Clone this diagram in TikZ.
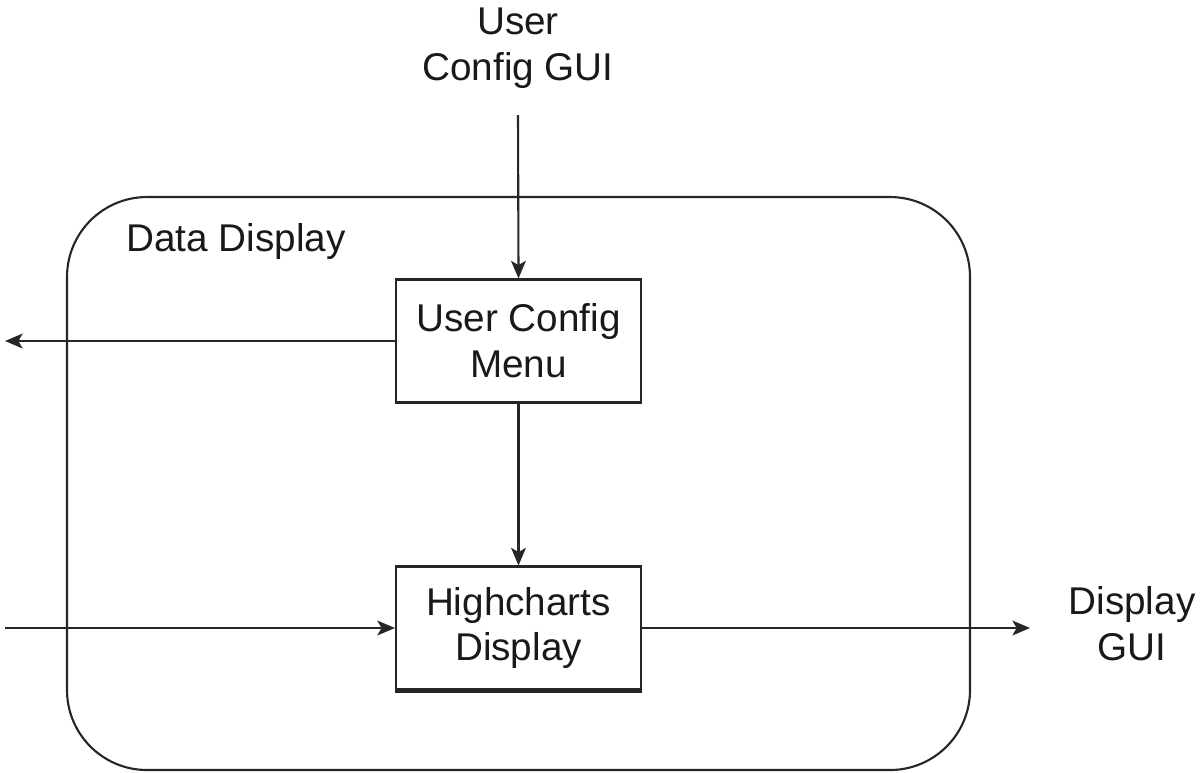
\documentclass[tikz,border=0pt]{standalone}
\usepackage{fontspec}
\setmainfont{Liberation Sans}
\usetikzlibrary{arrows.meta}

\begin{document}
\begin{tikzpicture}[x=0.01cm, y=-0.01cm, line width=0.6pt, draw=black!85,
  >={Stealth[length=5pt, width=4.2pt, inset=1.2pt]},
  every node/.style={font=\fontsize{11}{13}\selectfont, text=black!90},
  blockbox/.style={draw, minimum width=245*0.01cm, minimum height=123*0.01cm, align=center},
  lbl/.style={align=center}]
\useasboundingbox (0,0) rectangle (1204,772);
% outer block
\draw[rounded corners=0.8cm] (67,197) rectangle (970,770);
\node (datadisp) at (236,241) {Data Display};
% inner boxes
\node[blockbox] (menu) at (518.5,341) {User Config\\Menu};
\node[blockbox] (chart) at (518.5,628) {Highcharts\\Display};
\draw[line width=1.4pt] (chart.south west) -- (chart.south east);
% outside labels
\node[lbl] (guiin) at (518,48) {User\\Config GUI};
\node[lbl] (guiout) at (1132,624) {Display\\GUI};
\coordinate (inTop) at (518,115);
\coordinate (outLeft) at (5,341);
\coordinate (inLeft) at (5,628);
\coordinate (outRight) at (1030,628);
% connectors
\draw[->] (inTop) -- (menu.north);
\draw[->] (menu.west) -- (outLeft);
\draw[->] (menu.south) -- (chart.north);
\draw[->] (inLeft) -- (chart.west);
\draw[->] (chart.east) -- (outRight);
\end{tikzpicture}
\end{document}
